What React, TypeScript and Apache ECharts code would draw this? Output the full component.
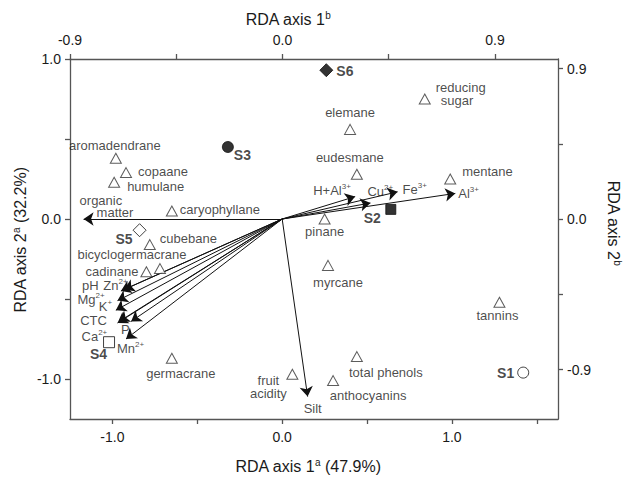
import React, { useEffect, useRef } from 'react';
import * as echarts from 'echarts';

const FONT = '"Liberation Sans", Arial, Helvetica, sans-serif';

// ---- Species scores (open triangles) ----
const speciesNames = ['aromadendrane', 'copaane', 'humulane', 'caryophyllane', 'cubebane', 'cadinane', 'bicyclogermacrane', 'germacrane', 'elemane', 'eudesmane', 'mentane', 'reducing sugar', 'pinane', 'myrcane', 'tannins', 'total phenols', 'anthocyanins', 'fruit acidity'];
const speciesX = [-0.98, -0.92, -0.99, -0.65, -0.78, -0.80, -0.72, -0.65, 0.40, 0.44, 0.99, 0.84, 0.25, 0.27, 1.28, 0.44, 0.30, 0.06];
const speciesY = [0.38, 0.29, 0.23, 0.05, -0.16, -0.33, -0.31, -0.87, 0.56, 0.28, 0.25, 0.75, 0.0, -0.29, -0.52, -0.86, -1.01, -0.97];

// ---- Site scores ----
const siteNames = ['S1', 'S2', 'S3', 'S4', 'S5', 'S6'];
const siteX = [1.42, 0.64, -0.32, -1.02, -0.84, 0.26];
const siteY = [-0.96, 0.06, 0.45, -0.77, -0.07, 0.93];

// ---- Environmental vectors (arrows from origin) ----
const envNames = ['organic matter', 'Silt', 'H+Al3+', 'Cu2+', 'Fe3+', 'Al3+', 'pH', 'Zn2+', 'Mg2+', 'K+', 'CTC', 'Ca2+', 'P', 'Mn2+'];
const envX = [-1.17, 0.15, 0.43, 0.52, 0.68, 1.02, -0.95, -0.93, -0.97, -0.98, -0.96, -0.97, -0.89, -0.92];
const envY = [0.0, -1.11, 0.14, 0.10, 0.17, 0.16, -0.45, -0.44, -0.51, -0.57, -0.64, -0.65, -0.64, -0.75];

// ---- Axis ticks / labels ----
const bottomTicks = [-1, -0.5, 0, 0.5, 1, 1.5];
const bottomLabels = [-1, 0, 1];
const topTicks = [-0.9, -0.45, 0, 0.45, 0.9];
const topLabels = [-0.9, 0, 0.9];
const leftTicks = [-1, -0.5, 0, 0.5, 1];
const leftLabels = [-1, 0, 1];
const rightTicks = [-0.9, -0.45, 0, 0.45, 0.9];
const rightLabels = [-0.9, 0, 0.9];

// ---- Label display text (rich markup) ----
const speciesText: Record<string, string> = {
  'reducing sugar': '{a|reducing}\n{b|sugar}',
  'fruit acidity': '{c|fruit}\n{c|acidity}',
};
const envText: Record<string, string> = {
  'organic matter': '{a|organic}\n{b|matter}',
  'H+Al3+': 'H+Al{s|3+}',
  'Cu2+': 'Cu{s|2+}',
  'Fe3+': 'Fe{s|3+}',
  'Al3+': 'Al{s|3+}',
  'Zn2+': 'Zn{s|2+}',
  'Mg2+': 'Mg{s|2+}',
  'K+': 'K{s|+}',
  'Ca2+': 'Ca{s|2+}',
  'Mn2+': 'Mn{s|2+}',
};

// ---- Label layout (pixel offsets, alignment) ----
const speciesLabelLayout: [number, number, string][] = [
  [-1, -13, 'center'], [12, -1, 'left'], [13, 4, 'left'], [8, -2, 'left'], [10, -6, 'left'],
  [-8, 0, 'right'], [-28, -14, 'center'], [9, 15, 'center'], [0, -17, 'center'], [-7, -17, 'center'],
  [12, -8, 'left'], [11, -5, 'left'], [0, 12, 'center'], [10, 17, 'center'], [-2, 13, 'center'],
  [29, 16, 'center'], [35, 15, 'center'], [-24, 13, 'center'],
];
const siteLabelLayout: [number, number, string][] = [
  [-9, 0, 'right'], [-10, 9, 'right'], [6, 8, 'left'], [-2, 12, 'right'], [-7, 9, 'right'], [10, 1, 'left'],
];
const envLabelLayout: [number, number][] = [
  [-4, -13], [-4, 12], [-42, -6], [-3, -12], [5, -2], [3, 0], [-39, -6], [-21, -4],
  [-40, -1], [-17, -4], [-39, -1], [-36, 13], [-10, 8], [-9, 9],
];
const siteStyle = [
  { symbol: 'circle', size: 11, fill: '#fff' },
  { symbol: 'rect', size: 10, fill: '#000' },
  { symbol: 'circle', size: 11, fill: '#000' },
  { symbol: 'rect', size: 11, fill: '#fff' },
  { symbol: 'diamond', size: 13, fill: '#fff' },
  { symbol: 'diamond', size: 13, fill: '#000' },
];

const TEXT = '#1a1a1a';
const AXIS = '#555';
const supRich = { s: { fontSize: 8, lineHeight: 8, verticalAlign: 'top', color: TEXT, fontFamily: FONT } };

function axisCommon(ticks: number[], labels: number[], margin: number) {
  return {
    type: 'value',
    splitLine: { show: false },
    axisLine: { show: true, onZero: false, lineStyle: { color: AXIS, width: 1.3 } },
    axisTick: { show: true, inside: false, length: 5, customValues: ticks, lineStyle: { color: AXIS, width: 1.3 } },
    axisLabel: {
      customValues: labels,
      formatter: (v: number) => v.toFixed(1),
      margin,
      fontSize: 14,
      color: TEXT,
      fontFamily: FONT,
    },
  };
}

function title(text: string, x: number, y: number, rotation: number) {
  return {
    type: 'text',
    x,
    y,
    rotation,
    style: {
      text,
      fontSize: 16,
      fontFamily: FONT,
      fill: TEXT,
      align: 'center',
      verticalAlign: 'middle',
      lineHeight: 18,
      rich: { s: { fontSize: 10, lineHeight: 10, verticalAlign: 'top', fill: TEXT, fontFamily: FONT } },
    },
  };
}

export default function App() {
  const ref = useRef<HTMLDivElement>(null);
  useEffect(() => {
    if (!ref.current) return;
    const chart = echarts.init(ref.current, undefined, { renderer: 'svg' });

    const speciesData = speciesNames.map((n, i) => {
      const [dx, dy, align] = speciesLabelLayout[i];
      return {
        name: n,
        value: [speciesX[i], speciesY[i]],
        label: {
          show: true,
          position: 'inside',
          align,
          verticalAlign: 'middle',
          offset: [dx, dy],
          formatter: speciesText[n] || n,
          rich: {
            a: { fontSize: 13, lineHeight: 13, color: TEXT, fontFamily: FONT },
            b: { fontSize: 13, lineHeight: 13, color: TEXT, fontFamily: FONT, padding: [0, 0, 0, 5] },
            c: { fontSize: 13, lineHeight: 13, color: TEXT, fontFamily: FONT, align: 'center' },
          },
        },
      };
    });

    const siteData = siteNames.map((n, i) => {
      const [dx, dy, align] = siteLabelLayout[i];
      const st = siteStyle[i];
      return {
        name: n,
        value: [siteX[i], siteY[i]],
        symbol: st.symbol,
        symbolSize: st.size,
        itemStyle: { color: st.fill, borderColor: '#111', borderWidth: 1 },
        label: {
          show: true,
          position: 'inside',
          align,
          verticalAlign: 'middle',
          offset: [dx, dy],
          formatter: n,
        },
      };
    });

    const envLines = envNames.map((n, i) => ({ name: n, coords: [[0, 0], [envX[i], envY[i]]] }));
    const envLabelData = envNames.map((n, i) => {
      const [dx, dy] = envLabelLayout[i];
      return {
        name: n,
        value: [envX[i], envY[i]],
        label: {
          show: true,
          position: 'inside',
          align: 'left',
          verticalAlign: 'middle',
          offset: [dx, dy],
          formatter: envText[n] || n,
          lineHeight: n === 'organic matter' ? 12 : 16,
          rich: {
            ...supRich,
            a: { fontSize: 13, lineHeight: 12, color: TEXT, fontFamily: FONT },
            b: { fontSize: 13, lineHeight: 12, color: TEXT, fontFamily: FONT, padding: [0, 0, 0, 17] },
          },
        },
      };
    });

    const option = {
      animation: false,
      backgroundColor: '#fff',
      textStyle: { fontFamily: FONT },
      grid: { left: 70, top: 59, width: 488, height: 360, containLabel: false },
      xAxis: [
        { ...axisCommon(bottomTicks, bottomLabels, 11), position: 'bottom', min: -1.25, max: 1.625 },
        { ...axisCommon(topTicks, topLabels, 12), position: 'top', min: -0.9, max: 1.167 },
      ],
      yAxis: [
        { ...axisCommon(leftTicks, leftLabels, 9), position: 'left', min: -1.25, max: 1.0 },
        { ...axisCommon(rightTicks, rightLabels, 9), position: 'right', min: -1.195, max: 0.958 },
      ],
      graphic: [
        title('RDA axis 1{s|b}', 288, 19, 0),
        title('RDA axis 1{s|a} (47.9%)', 308, 466, 0),
        title('RDA axis 2{s|a} (32.2%)', 20, 240, Math.PI / 2),
        title('RDA axis 2{s|b}', 613, 223, -Math.PI / 2),
      ],
      series: [
        {
          type: 'lines',
          coordinateSystem: 'cartesian2d',
          xAxisIndex: 0,
          yAxisIndex: 0,
          silent: true,
          symbol: ['none', 'arrow'],
          symbolSize: 10,
          lineStyle: { color: '#111', width: 1, opacity: 1, curveness: 0 },
          data: envLines,
          z: 2,
        },
        {
          type: 'scatter',
          name: 'env labels',
          silent: true,
          symbolSize: 1,
          itemStyle: { color: 'transparent' },
          label: { color: TEXT, fontSize: 13, fontFamily: FONT },
          data: envLabelData,
          z: 3,
        },
        {
          type: 'scatter',
          name: 'species',
          symbol: 'triangle',
          symbolSize: [11, 10],
          itemStyle: { color: '#fff', borderColor: '#333', borderWidth: 1 },
          label: { color: TEXT, fontSize: 13, fontFamily: FONT },
          data: speciesData,
          z: 4,
        },
        {
          type: 'scatter',
          name: 'sites',
          label: { color: TEXT, fontSize: 14, fontWeight: 'bold', fontFamily: FONT },
          data: siteData,
          z: 5,
        },
      ],
    };

    chart.setOption(option as any);
    return () => chart.dispose();
  }, []);

  return <div ref={ref} style={{ position: 'absolute', left: 0, top: 0, width: 635, height: 479 }} />;
}
